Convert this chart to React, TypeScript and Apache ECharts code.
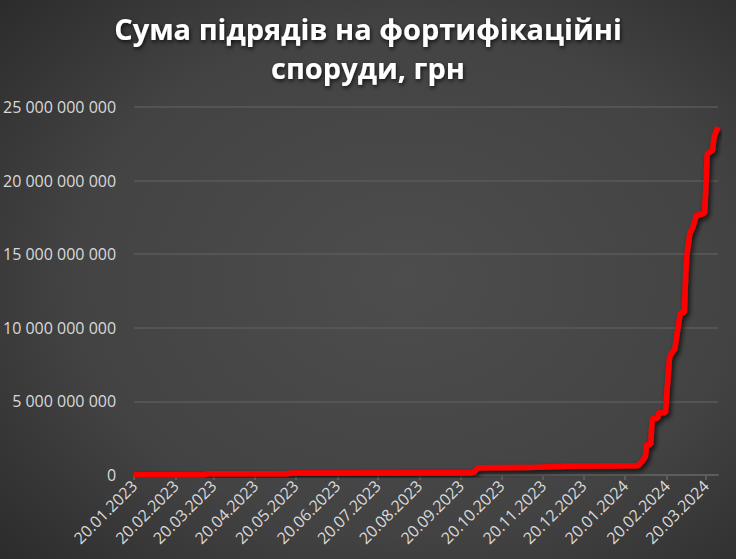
import React, { useEffect, useRef } from "react";
import * as echarts from "echarts";

const titleText = "Сума підрядів на фортифікаційні\nспоруди, грн";

// cumulative sum of contracts (UAH) by date
const dates: string[] = [
  "2023-01-20", "2023-03-12", "2023-03-17", "2023-05-13", "2023-05-18",
  "2023-09-27", "2023-09-30", "2023-10-02", "2023-10-06", "2023-11-15",
  "2023-12-01", "2023-12-08", "2024-01-28", "2024-01-30", "2024-02-03",
  "2024-02-04", "2024-02-05", "2024-02-08", "2024-02-09", "2024-02-13",
  "2024-02-14", "2024-02-19", "2024-02-20", "2024-02-22", "2024-02-26",
  "2024-02-28", "2024-03-01", "2024-03-04", "2024-03-05", "2024-03-06",
  "2024-03-08", "2024-03-10", "2024-03-13", "2024-03-19", "2024-03-20",
  "2024-03-21", "2024-03-25", "2024-03-26", "2024-03-29",
];
const values: number[] = [
  0.02e9, 0.02e9, 0.08e9, 0.08e9, 0.13e9,
  0.15e9, 0.22e9, 0.47e9, 0.49e9, 0.52e9,
  0.58e9, 0.6e9, 0.63e9, 0.66e9, 1.1e9,
  1.25e9, 2.06e9, 2.08e9, 3.82e9, 3.85e9,
  4.23e9, 4.25e9, 5.6e9, 8.05e9, 8.6e9,
  9.86e9, 11.0e9, 11.05e9, 13.7e9, 15.06e9,
  16.4e9, 16.75e9, 17.65e9, 17.77e9, 19.57e9,
  21.84e9, 22.06e9, 22.96e9, 23.64e9,
];

const xTickLabels: string[] = [
  "20.01.2023", "20.02.2023", "20.03.2023", "20.04.2023", "20.05.2023",
  "20.06.2023", "20.07.2023", "20.08.2023", "20.09.2023", "20.10.2023",
  "20.11.2023", "20.12.2023", "20.01.2024", "20.02.2024", "20.03.2024",
];
const xMin = "2023-01-20";
const xMax = "2024-03-29";

const yMax = 25e9;
const yInterval = 5e9;

const DAY = 86400000;
function toDay(s: string): number {
  const [y, m, d] = s.split("-").map(Number);
  return Math.round(Date.UTC(y, m - 1, d) / DAY);
}
function labelToDay(s: string): number {
  const [d, m, y] = s.split(".").map(Number);
  return Math.round(Date.UTC(y, m - 1, d) / DAY);
}
function pad(n: number) {
  return n < 10 ? "0" + n : "" + n;
}
function fmtDay(v: number) {
  const dt = new Date(Math.round(v) * DAY);
  return pad(dt.getUTCDate()) + "." + pad(dt.getUTCMonth() + 1) + "." + dt.getUTCFullYear();
}
function fmtNum(v: number) {
  return String(Math.round(v)).replace(/\B(?=(\d{3})+(?!\d))/g, " ");
}

export default function App() {
  const ref = useRef<HTMLDivElement>(null);
  useEffect(() => {
    if (!ref.current) return;
    const chart = echarts.init(ref.current, null, { renderer: "svg" });
    const tickDays = xTickLabels.map(labelToDay);
    const font = "'Open Sans', 'Noto Sans', sans-serif";
    chart.setOption({
      animation: false,
      backgroundColor: {
        type: "radial",
        x: 0.55,
        y: 0.5,
        r: 0.75,
        colorStops: [
          { offset: 0, color: "#4d4d4d" },
          { offset: 0.6, color: "#434343" },
          { offset: 1, color: "#2b2b2b" },
        ],
      },
      title: {
        text: titleText,
        left: "center",
        top: 4,
        textStyle: {
          color: "#ffffff",
          fontFamily: font,
          fontWeight: "bold",
          fontSize: 29,
          lineHeight: 39,
          textShadowColor: "rgba(0,0,0,0.75)",
          textShadowBlur: 4,
          textShadowOffsetX: 1,
          textShadowOffsetY: 2,
        },
      },
      grid: { left: 132, right: 18, top: 107, bottom: 84, containLabel: false },
      xAxis: {
        type: "value",
        min: toDay(xMin),
        max: toDay(xMax),
        axisLine: { show: true, onZero: false, lineStyle: { color: "#5c5c5c", width: 2 } },
        axisTick: {
          show: true,
          length: 5,
          customValues: tickDays,
          lineStyle: { color: "#5c5c5c", width: 2 },
        },
        axisLabel: {
          customValues: tickDays,
          rotate: 45,
          color: "#d9d9d9",
          fontFamily: font,
          fontSize: 16,
          margin: 8,
          hideOverlap: false,
          formatter: (v: number) => fmtDay(v),
        },
        splitLine: { show: false },
      },
      yAxis: {
        type: "value",
        min: 0,
        max: yMax,
        interval: yInterval,
        axisLine: { show: false },
        axisTick: { show: false },
        axisLabel: {
          color: "#d9d9d9",
          fontFamily: font,
          fontSize: 16,
          margin: 18,
          formatter: (v: number) => fmtNum(v),
        },
        splitLine: { lineStyle: { color: "#5a5a5a", width: 1.5 } },
      },
      series: [
        {
          type: "line",
          data: dates.map((d, i) => [toDay(d), values[i]]),
          showSymbol: false,
          lineStyle: {
            color: "#ff0000",
            width: 5.5,
            shadowColor: "rgba(0,0,0,0.75)",
            shadowBlur: 5,
            shadowOffsetX: 2,
            shadowOffsetY: 3,
          },
        },
      ],
    });
    return () => chart.dispose();
  }, []);
  return (
    <div
      ref={ref}
      style={{ position: "absolute", left: 0, top: 0, width: 736, height: 559 }}
    />
  );
}
